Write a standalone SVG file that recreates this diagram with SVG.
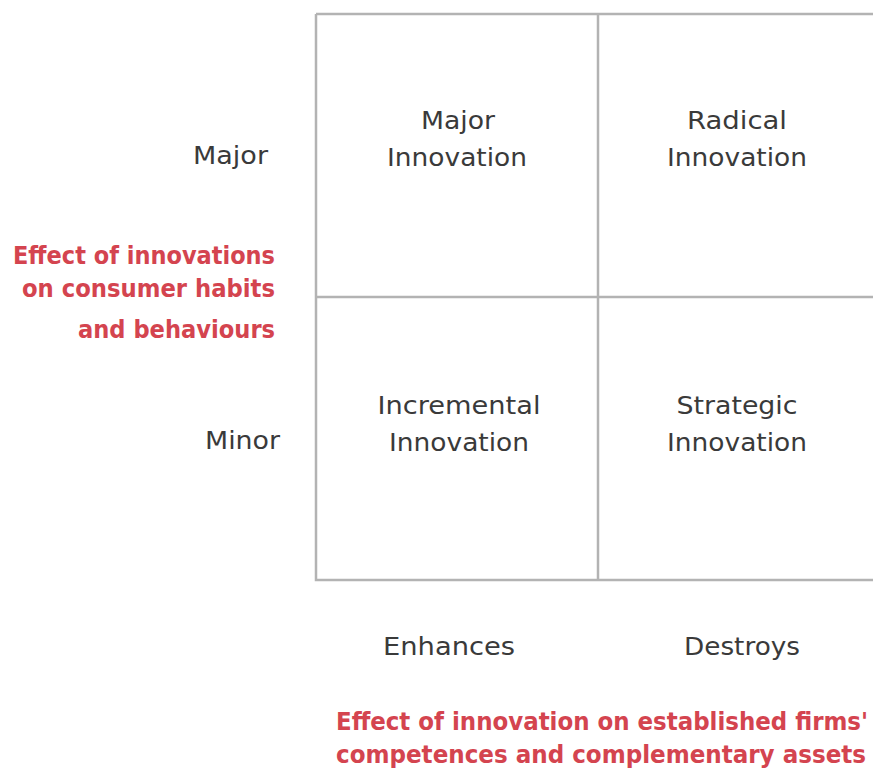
<svg xmlns="http://www.w3.org/2000/svg" width="873" height="773" viewBox="0 0 873 773">
<style>
.grid{fill:none;stroke:#b3b3b3;stroke-width:2.5}
.t{font-family:"DejaVu Sans",sans-serif;font-size:24px;fill:#3a3a3a;font-weight:normal}
.r{font-family:"DejaVu Sans Condensed","DejaVu Sans",sans-serif;font-size:25px;fill:#d4444f;font-weight:bold}
</style>
<rect width="873" height="773" fill="#fff"/>
<g id="connectors">
<path class="grid" d="M316,14 H880 M316,14 V580 H880 M598,14 V580 M316,297 H880"/>
</g>
<g id="cell-major"><text class="t" text-anchor="middle" x="458" y="129" textLength="74" lengthAdjust="spacingAndGlyphs">Major</text><text class="t" text-anchor="middle" x="457" y="166" textLength="140" lengthAdjust="spacingAndGlyphs">Innovation</text></g>
<g id="cell-radical"><text class="t" text-anchor="middle" x="737" y="129" textLength="100" lengthAdjust="spacingAndGlyphs">Radical</text><text class="t" text-anchor="middle" x="737" y="166" textLength="140" lengthAdjust="spacingAndGlyphs">Innovation</text></g>
<g id="cell-incremental"><text class="t" text-anchor="middle" x="459" y="414" textLength="163" lengthAdjust="spacingAndGlyphs">Incremental</text><text class="t" text-anchor="middle" x="459" y="451" textLength="140" lengthAdjust="spacingAndGlyphs">Innovation</text></g>
<g id="cell-strategic"><text class="t" text-anchor="middle" x="737" y="414" textLength="121" lengthAdjust="spacingAndGlyphs">Strategic</text><text class="t" text-anchor="middle" x="737" y="451" textLength="140" lengthAdjust="spacingAndGlyphs">Innovation</text></g>
<g id="label-major"><text class="t" text-anchor="end" x="268" y="164" textLength="75" lengthAdjust="spacingAndGlyphs">Major</text></g>
<g id="label-minor"><text class="t" text-anchor="end" x="280" y="449" textLength="75" lengthAdjust="spacingAndGlyphs">Minor</text></g>
<g id="label-enhances"><text class="t" text-anchor="middle" x="449" y="655" textLength="132" lengthAdjust="spacingAndGlyphs">Enhances</text></g>
<g id="label-destroys"><text class="t" text-anchor="middle" x="742" y="655" textLength="116" lengthAdjust="spacingAndGlyphs">Destroys</text></g>
<g id="axis-y"><text class="r" text-anchor="end" x="275" y="264" textLength="262" lengthAdjust="spacingAndGlyphs">Effect of innovations</text><text class="r" text-anchor="end" x="275" y="297" textLength="253" lengthAdjust="spacingAndGlyphs">on consumer habits</text><text class="r" text-anchor="end" x="275" y="338" textLength="197" lengthAdjust="spacingAndGlyphs">and behaviours</text></g>
<g id="axis-x"><text class="r" x="336" y="730" textLength="532" lengthAdjust="spacingAndGlyphs">Effect of innovation on established firms'</text><text class="r" x="336" y="763" textLength="530" lengthAdjust="spacingAndGlyphs">competences and complementary assets</text></g>
</svg>
